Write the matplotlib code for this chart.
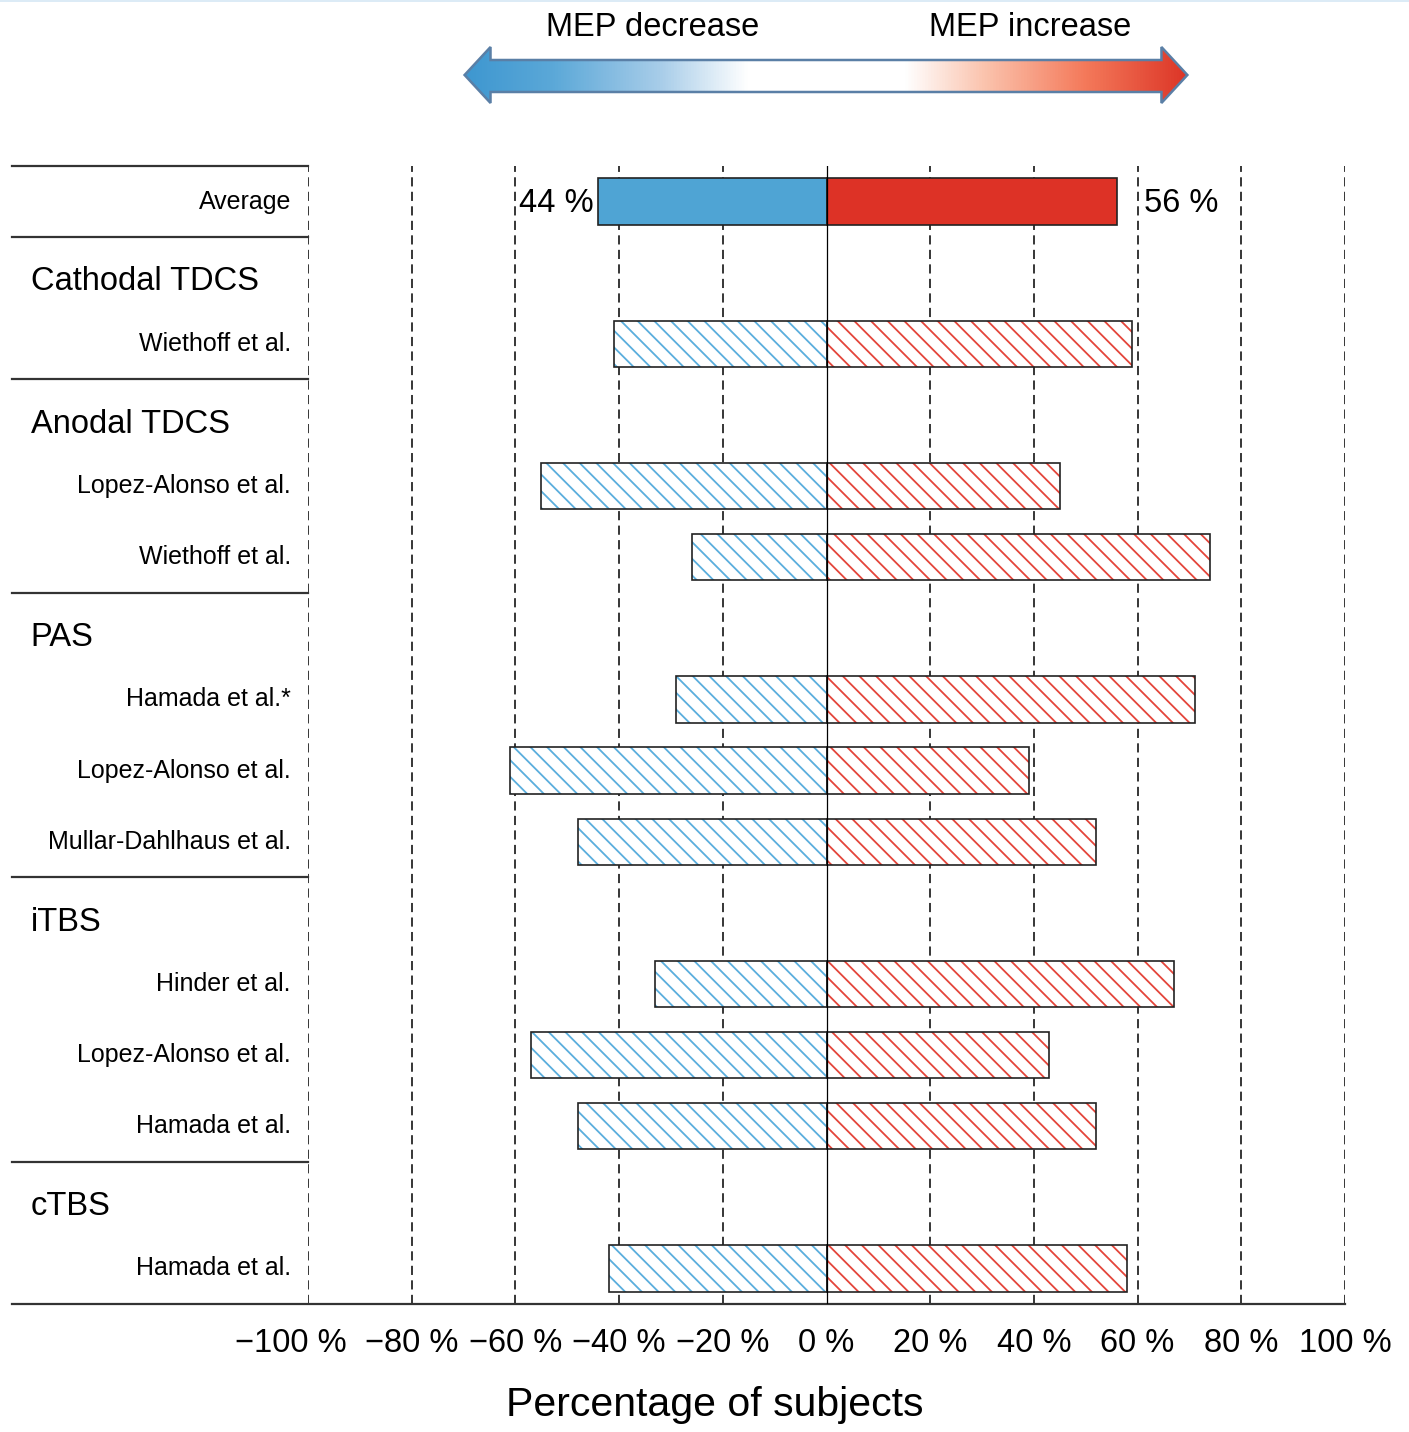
import numpy as np
import matplotlib
matplotlib.use("Agg")
import matplotlib.pyplot as plt
from matplotlib.colors import LinearSegmentedColormap
from matplotlib.patches import Polygon
from matplotlib.lines import Line2D
from matplotlib.transforms import ScaledTranslation
from matplotlib import font_manager as fm

# ---------------- data ----------------
average_label = "Average"
average_decrease = 44
average_increase = 56

groups = ["Cathodal TDCS", "Anodal TDCS", "PAS", "iTBS", "cTBS"]
group_studies = [
    ["Wiethoff et al."],
    ["Lopez-Alonso et al.", "Wiethoff et al."],
    ["Hamada et al.*", "Lopez-Alonso et al.", "Mullar-Dahlhaus et al."],
    ["Hinder et al.", "Lopez-Alonso et al.", "Hamada et al."],
    ["Hamada et al."],
]
group_decrease = [[41], [55, 26], [29, 61, 48], [33, 57, 48], [42]]
group_increase = [[59], [45, 74], [71, 39, 52], [67, 43, 52], [58]]

xticks = [-100, -80, -60, -40, -20, 0, 20, 40, 60, 80, 100]
xtick_labels = ["\u2212100 %", "\u221280 %", "\u221260 %", "\u221240 %", "\u221220 %",
                "0 %", "20 %", "40 %", "60 %", "80 %", "100 %"]
xlabel = "Percentage of subjects"
arrow_left_text = "MEP decrease"
arrow_right_text = "MEP increase"

# ---------------- style ----------------
BLUE = "#4fa4d4"
RED = "#dd3226"
HBLUE = "#5aaedd"
HRED = "#e4453a"
plt.rcParams["hatch.linewidth"] = 1.3
names = {f.name for f in fm.fontManager.ttflist}
MAIN_FONT = ["Liberation Sans", "DejaVu Sans"]
if "Liberation Sans Narrow" in names:
    LABEL_FONT = ["Liberation Sans Narrow", "Liberation Sans", "DejaVu Sans"]
    LABEL_SIZE = 21.5
else:
    LABEL_FONT = MAIN_FONT
    LABEL_SIZE = 18
plt.rcParams["font.family"] = MAIN_FONT

W, H = 1409, 1432
fig = plt.figure(figsize=(W / 100, H / 100), dpi=100)
ax = fig.add_axes([308 / W, 1 - 1304 / H, (1345 - 308) / W, (1304 - 166) / H])

# ---------------- layout rows ----------------
bar_y, bar_lab, dec, inc = [], [], [], []
header_y, sep_y = [], [-0.5, 0.5]
row = 1
for g, studies, d, i in zip(groups, group_studies, group_decrease, group_increase):
    header_y.append(row)
    if row - 0.5 not in sep_y:
        sep_y.append(row - 0.5)
    row += 1
    for s, dd, ii in zip(studies, d, i):
        bar_y.append(row)
        bar_lab.append(s)
        dec.append(dd)
        inc.append(ii)
        row += 1
bottom_y = row - 0.5
bar_y = np.array(bar_y)
dec = np.array(dec)
inc = np.array(inc)

BH = 0.65
# grid lines
for xv in xticks:
    if xv == 0:
        continue
    ax.axvline(xv, color="black", lw=1.1, ls=(0, (6, 3.5)), zorder=1)
ax.axvline(0, color="black", lw=0.9, zorder=4)

# average bars (solid)
ax.barh([0], [-average_decrease], height=BH, color=BLUE, edgecolor="#222222", lw=1.2, zorder=3)
ax.barh([0], [average_increase], height=BH, color=RED, edgecolor="#222222", lw=1.2, zorder=3)
ax.annotate(f"{average_decrease} %", xy=(-average_decrease, 0), xytext=(-5, -2),
            textcoords="offset pixels", ha="right", va="center", fontsize=23.5)
ax.annotate(f"{average_increase} %", xy=(average_increase, 0), xytext=(27, -2),
            textcoords="offset pixels", ha="left", va="center", fontsize=23.5)

# hatched study bars
ax.barh(bar_y, -dec, height=BH, color="white", edgecolor=HBLUE, hatch="\\\\", lw=0, zorder=2)
ax.barh(bar_y, -dec, height=BH, fill=False, edgecolor="#222222", lw=1.2, zorder=3)
ax.barh(bar_y, inc, height=BH, color="white", edgecolor=HRED, hatch="\\\\", lw=0, zorder=2)
ax.barh(bar_y, inc, height=BH, fill=False, edgecolor="#222222", lw=1.2, zorder=3)

ax.set_xlim(-100, 100)
ax.set_ylim(bottom_y, -0.5)
for sp in ax.spines.values():
    sp.set_visible(False)
ax.set_yticks([])
ax.set_xticks(xticks, xtick_labels)
ax.tick_params(axis="x", length=0, pad=17, labelsize=23.5)
# shift the outermost left label a little so it does not touch its neighbour
first = ax.get_xticklabels()[0]
first.set_transform(first.get_transform() + ScaledTranslation(-17 / 100, 0, fig.dpi_scale_trans))
ax.set_xlabel(xlabel, fontsize=29.5)
ax.xaxis.set_label_coords((715 - 308) / (1345 - 308), -0.072)

# left side labels and separators
x_sep_left = -157
for s in sep_y:
    ax.add_line(Line2D([x_sep_left, -100], [s, s], color="#333333", lw=1.6, clip_on=False))
ax.add_line(Line2D([x_sep_left, 100], [bottom_y, bottom_y], color="#333333", lw=1.6, clip_on=False))

ax.text(-103.3, 0, average_label, ha="right", va="center", fontsize=LABEL_SIZE,
        family=LABEL_FONT, clip_on=False)
for y, lab in zip(bar_y, bar_lab):
    ax.text(-103.3, y, lab, ha="right", va="center", fontsize=LABEL_SIZE,
            family=LABEL_FONT, clip_on=False)
for y, g in zip(header_y, groups):
    ax.text(-153.5, y + 0.25, g, ha="left", va="baseline", fontsize=23.5, clip_on=False)

# ---------------- top gradient arrow ----------------
axa = fig.add_axes([308 / W, 1 - 130 / H, (1345 - 308) / W, 130 / H])
axa.set_xlim(-100, 100)
axa.set_ylim(130, 0)
axa.axis("off")
tl, tr, hl = -69.8, 69.6, 5.0
yc, s0, s1, h0, h1 = 75, 60, 92, 47, 103
pts = [(tl, yc), (tl + hl, h0), (tl + hl, s0), (tr - hl, s0), (tr - hl, h0), (tr, yc),
       (tr - hl, h1), (tr - hl, s1), (tl + hl, s1), (tl + hl, h1)]
cmap = LinearSegmentedColormap.from_list(
    "mep", [(0, "#3e97d0"), (0.12, "#5ba8d8"), (0.27, "#a8cde9"), (0.39, "#ffffff"),
            (0.61, "#ffffff"), (0.72, "#fbc3ad"), (0.86, "#f4795a"), (1, "#dc3527")])
grad = np.linspace(0, 1, 512)[None, :]
im = axa.imshow(grad, cmap=cmap, aspect="auto", extent=(tl, tr, h1, h0), zorder=1)
poly = Polygon(pts, closed=True, facecolor="none", edgecolor="#5a7fa6", lw=1.8, zorder=2,
               joinstyle="miter")
axa.add_patch(poly)
im.set_clip_path(poly)
axa.text(-33.6, 27, arrow_left_text, ha="center", va="center", fontsize=23.5)
axa.text(39.3, 27, arrow_right_text, ha="center", va="center", fontsize=23.5)

fig.add_artist(Line2D([0, 1], [1 - 0.7 / H, 1 - 0.7 / H], color="#d6e8f5", lw=1.2))

fig.savefig("out.png", dpi=100)
